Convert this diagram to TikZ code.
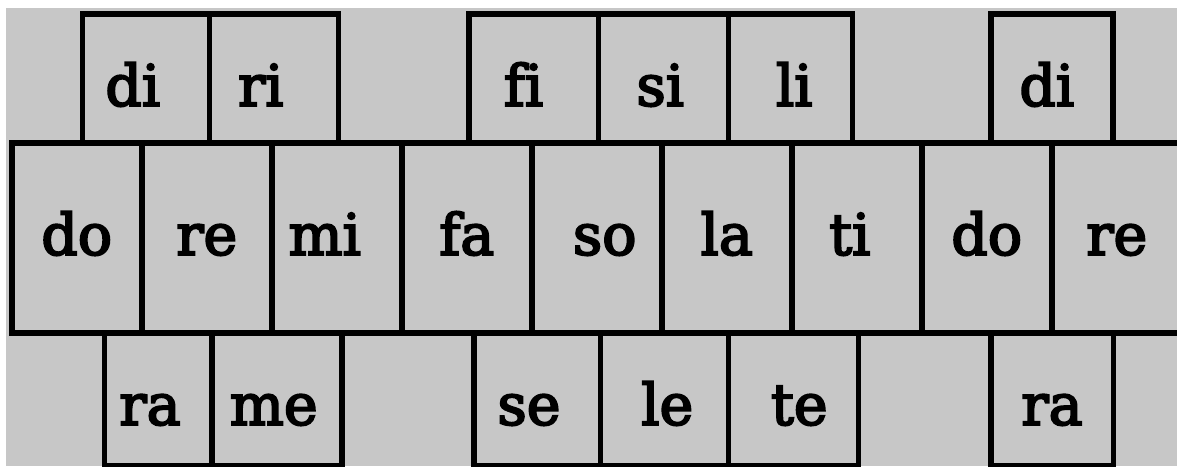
\documentclass[tikz,border=0pt]{standalone}
\usepackage{fontspec}
\newfontfamily\notefont[Ligatures=NoCommon, FakeBold=3.5]{DejaVu Serif}
\definecolor{keygray}{RGB}{199,199,199}

\begin{document}
\begin{tikzpicture}[
        x=1pt, y=-1pt,
        key/.style={draw, line width=5.5pt, fill=keygray, anchor=north west, inner sep=0pt,
                    font=\notefont\fontsize{57}{60}\selectfont},
        sharpkey/.style={key, minimum height=129pt, text height=55pt, text depth=0pt},
        naturalkey/.style={key, minimum width=130pt, minimum height=190pt, text height=34pt, text depth=0pt},
        flatkey/.style={key, minimum height=132.5pt, text height=51.5pt, text depth=0pt},
        nudge/.style={execute at begin node={\hspace*{2\dimexpr#1\relax}}}
      ]
      \useasboundingbox (0,0) rectangle (1177,466);
      \fill[keygray] (6,8) rectangle (1177,466);

      % naturals
      \node[naturalkey] (do1) at (9,140) {do};
      \node[naturalkey] (re1) at (139,140) {re};
      \node[naturalkey, nudge=-12pt] (mi) at (269,140) {mi};
      \node[naturalkey] (fa) at (399,140) {fa};
      \node[naturalkey, nudge=8pt] (so) at (529,140) {so};
      \node[naturalkey] (la) at (659,140) {la};
      \node[naturalkey, nudge=-7pt] (ti) at (789,140) {ti};
      \node[naturalkey] (do2) at (919,140) {do};
      \node[naturalkey] (re2) at (1049,140) {re};

      % sharps
      \node[sharpkey, minimum width=127pt, nudge=-13pt] (di1) at (79.5,11) {di};
      \node[sharpkey, minimum width=129pt, nudge=-13pt] (ri) at (206.5,11) {ri};
      \node[sharpkey, minimum width=129.5pt, nudge=-10pt] (fi) at (466,11) {fi};
      \node[sharpkey, minimum width=130pt, nudge=-3pt] (si) at (595.5,11) {si};
      \node[sharpkey, minimum width=124pt, nudge=4pt] (li) at (725.5,11) {li};
      \node[sharpkey, minimum width=122pt, nudge=-5pt] (di2) at (988,11) {di};

      % flats
      \node[flatkey, minimum width=107.5pt, nudge=-8pt] (ra1) at (101.5,330) {ra};
      \node[flatkey, minimum width=130pt, nudge=-3pt] (me) at (209,330) {me};
      \node[flatkey, minimum width=126.5pt, nudge=-8pt] (se) at (471,330) {se};
      \node[flatkey, minimum width=128pt, nudge=3pt] (le) at (597.5,330) {le};
      \node[flatkey, minimum width=130pt, nudge=6pt] (te) at (725.5,330) {te};
      \node[flatkey, minimum width=122.5pt] (ra2) at (988,330) {ra};
    \end{tikzpicture}
\end{document}
